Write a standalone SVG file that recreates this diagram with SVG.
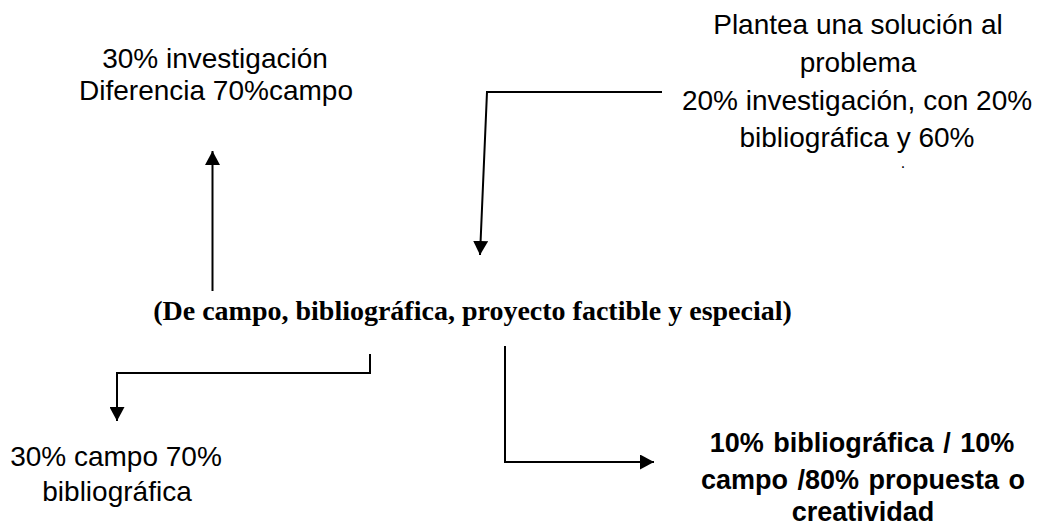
<svg xmlns="http://www.w3.org/2000/svg" width="1039" height="527" viewBox="0 0 1039 527">
<style>
.t{font-family:"Liberation Sans",Arial,sans-serif;font-size:28px;fill:#000;text-anchor:middle}
.b{font-family:"Liberation Sans",Arial,sans-serif;font-size:27px;font-weight:bold;fill:#000;text-anchor:middle;word-spacing:2px}
.s{font-family:"Liberation Serif","Times New Roman",serif;font-size:28px;font-weight:bold;fill:#000;text-anchor:middle}
.c{fill:none;stroke:#000;stroke-width:2}
</style>
<defs>
<marker id="ah" markerUnits="userSpaceOnUse" markerWidth="15" markerHeight="15" refX="14" refY="7.5" orient="auto" viewBox="0 0 15 15">
<path d="M0,0 L14,7.5 L0,15 z" fill="#000"/>
</marker>
</defs>
<rect width="1039" height="527" fill="#fff"/>
<g id="connectors">
<path class="c" d="M212.5,291 L212.5,151" marker-end="url(#ah)"/>
<path class="c" d="M662,92 L487,92 L480,255" marker-end="url(#ah)"/>
<path class="c" d="M370,354 L370,373 L117,373 L117,421" marker-end="url(#ah)"/>
<path class="c" d="M505,346 L505,462 L654,462" marker-end="url(#ah)"/>
</g>
<g id="center">
<text class="s" x="472.5" y="320">(De campo, bibliográfica, proyecto factible y especial)</text>
</g>
<g id="top-left">
<text class="t" x="215" y="68">30% investigación</text>
<text class="t" x="216" y="100">Diferencia 70%campo</text>
</g>
<g id="top-right">
<text class="t" x="858" y="34">Plantea una solución al</text>
<text class="t" x="858" y="72">problema</text>
<text class="t" x="857" y="110">20% investigación, con 20%</text>
<text class="t" x="857" y="147">bibliográfica y 60%</text>
<text class="t" x="903" y="168" style="font-size:16px">.</text>
</g>
<g id="bottom-left">
<text class="t" x="116" y="466">30% campo 70%</text>
<text class="t" x="117" y="501">bibliográfica</text>
</g>
<g id="bottom-right">
<text class="b" x="862" y="452">10% bibliográfica / 10%</text>
<text class="b" x="863" y="489">campo /80% propuesta o</text>
<text class="b" x="863" y="521">creatividad</text>
</g>
</svg>
